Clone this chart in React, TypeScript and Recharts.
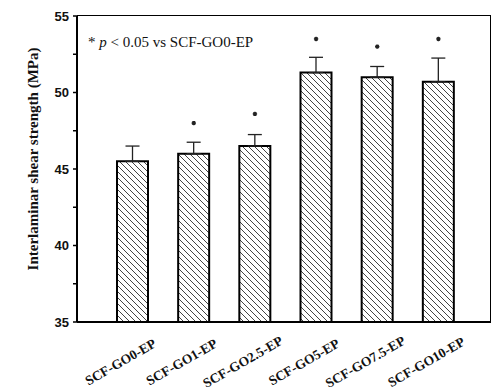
import React from "react";
import {
  ComposedChart,
  Bar,
  ErrorBar,
  Scatter,
  XAxis,
  YAxis,
} from "recharts";

const categories = [
  "SCF-GO0-EP",
  "SCF-GO1-EP",
  "SCF-GO2.5-EP",
  "SCF-GO5-EP",
  "SCF-GO7.5-EP",
  "SCF-GO10-EP",
];
const strength = [45.5, 46.0, 46.5, 51.3, 51.0, 50.7];
const stdDev = [1.0, 0.75, 0.75, 1.0, 0.7, 1.55];
// height of the significance mark above each bar (none on the reference group)
const starLevel = [null, 48.0, 48.6, 53.5, 53.0, 53.5];
const yTicks = [35, 40, 45, 50, 55];
const yMinorTicks = [35, 37.5, 40, 42.5, 45, 47.5, 50, 52.5, 55];

const data = categories.map((name, i) => ({
  name,
  ilss: strength[i],
  err: [0, stdDev[i]],
  star: starLevel[i],
}));

const serif = "'Liberation Serif', 'Times New Roman', serif";
const sans = "'Liberation Sans', Arial, sans-serif";

// plot box (chart margins + axis sizes)
const M = { top: 16, right: 9, left: 0 };
const Y_W = 77;
const X_H = 65;

function XTick(props: any) {
  const { x, y, payload } = props;
  const cx = x - 12;
  const cy = y + 32;
  return (
    <text
      x={cx}
      y={cy}
      textAnchor="middle"
      dominantBaseline="central"
      transform={`rotate(-30, ${cx}, ${cy})`}
      fontFamily={serif}
      fontWeight="bold"
      fontSize={13.5}
      fill="#111"
    >
      {payload.value}
    </text>
  );
}

function Star(props: any) {
  const { cx, cy } = props;
  if (cx == null || cy == null) return null;
  const r = 2.2;
  return (
    <path
      d={`M${cx - r},${cy} L${cx + r},${cy} M${cx},${cy - r} L${cx},${cy + r} M${cx - r * 0.7},${cy - r * 0.7} L${cx + r * 0.7},${cy + r * 0.7} M${cx - r * 0.7},${cy + r * 0.7} L${cx + r * 0.7},${cy - r * 0.7}`}
      stroke="#222"
      strokeWidth={1.3}
      fill="none"
    />
  );
}

function YLabel() {
  return (
    <text
      x={33}
      y={159}
      textAnchor="middle"
      dominantBaseline="central"
      transform="rotate(-90, 33, 159)"
      fontFamily={serif}
      fontWeight="bold"
      fontSize={15}
      fill="#111"
    >
      Interlaminar shear strength (MPa)
    </text>
  );
}

export default function App() {
  return (
    <div style={{ position: "absolute", left: 0, top: 0, width: 500, height: 387, background: "#fff" }}>
      <ComposedChart
        width={500}
        height={387}
        data={data}
        margin={{ top: M.top, right: M.right, bottom: 0, left: M.left }}
      >
        <defs>
          <pattern id="hatch" patternUnits="userSpaceOnUse" width={6} height={6}>
            <path d="M0,0 L6,6 M-1,5 L1,7 M5,-1 L7,1" stroke="#444" strokeWidth={1} />
          </pattern>
        </defs>
        <XAxis
          dataKey="name"
          height={X_H}
          padding={{ left: 25, right: 22 }}
          tickLine={false}
          axisLine={{ stroke: "#000", strokeWidth: 2 }}
          tick={<XTick />}
          interval={0}
        />
        <YAxis
          domain={[35, 55]}
          ticks={yMinorTicks}
          width={Y_W}
          interval={0}
          tickLine={{ stroke: "#000", strokeWidth: 1.5 }}
          tickSize={4}
          axisLine={{ stroke: "#000", strokeWidth: 2 }}
          tick={(p: any) =>
            yTicks.includes(p.payload.value) ? (
              <text
                x={p.x - 2}
                y={p.y}
                textAnchor="end"
                dominantBaseline="central"
                fontFamily={sans}
                fontWeight="bold"
                fontSize={13}
                fill="#111"
              >
                {p.payload.value}
              </text>
            ) : (
              <g />
            )
          }
          label={<YLabel />}
        />
        <Bar
          dataKey="ilss"
          barSize={31}
          fill="url(#hatch)"
          stroke="#000"
          strokeWidth={2}
          isAnimationActive={false}
        >
          <ErrorBar dataKey="err" width={7} stroke="#222" strokeWidth={1.3} direction="y" />
        </Bar>
        <Scatter dataKey="star" shape={<Star />} isAnimationActive={false} />
      </ComposedChart>
      {/* top and right edges of the plot frame */}
      <div
        style={{
          position: "absolute",
          left: M.left + Y_W,
          top: M.top - 1,
          width: 500 - M.left - Y_W - M.right,
          height: 387 - M.top - X_H,
          borderTop: "1.5px solid #000",
          borderRight: "1.5px solid #000",
          boxSizing: "border-box",
          pointerEvents: "none",
        }}
      />
      <div
        style={{
          position: "absolute",
          left: 88,
          top: 34,
          fontFamily: serif,
          fontSize: 15,
          color: "#111",
          whiteSpace: "nowrap",
        }}
      >
        * <i>p</i> &lt; 0.05 vs SCF-GO0-EP
      </div>
    </div>
  );
}
